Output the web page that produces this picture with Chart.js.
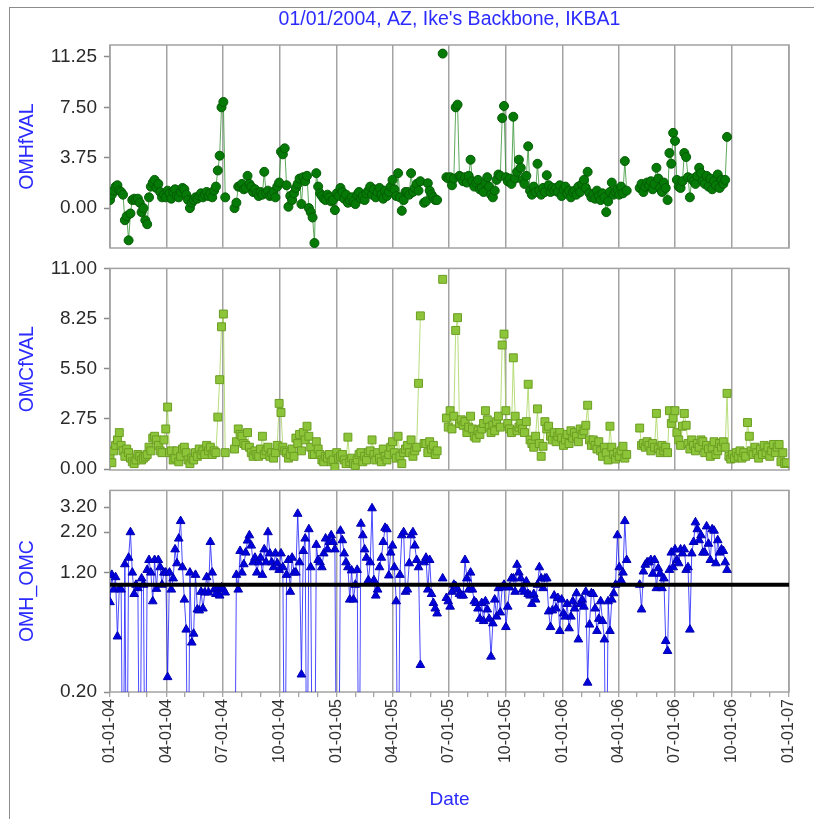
<!DOCTYPE html>
<html>
<head>
<meta charset="utf-8">
<script src="https://cdn.jsdelivr.net/npm/chart.js@4.4.1/dist/chart.umd.min.js"></script>
<style>
  html, body { margin: 0; padding: 0; background: #fff; }
  #page { position: relative; width: 814px; height: 819px; overflow: hidden; }
  #frame { position: absolute; left: 9px; top: 7px; width: 820px; height: 830px;
           border-left: 1px solid #8c8c8c; border-top: 1px solid #8c8c8c; }
  canvas { position: absolute; left: 10px; }
</style>
</head>
<body>
<div id="page">
  <div id="frame"></div>
  <canvas id="omhChart" width="804" height="260" style="top:8px"></canvas>
  <canvas id="omcChart" width="804" height="240" style="top:250px"></canvas>
  <canvas id="ratioChart" width="804" height="347" style="top:472px"></canvas>
</div>
<script>
// Datos: un muestreo cada 3 dias, dia 0 = 01/01/2004
const N = null;
const sampleDay = [
  0,3,6,9,12,15,18,21,24,27,
  30,33,36,39,42,45,48,51,54,57,
  60,63,66,69,72,75,78,81,84,87,
  90,93,96,99,102,105,108,111,114,117,
  120,123,126,129,132,135,138,141,144,147,
  150,153,156,159,162,165,168,171,174,177,
  180,183,186,189,192,195,198,201,204,207,
  210,213,216,219,222,225,228,231,234,237,
  240,243,246,249,252,255,258,261,264,267,
  270,273,276,279,282,285,288,291,294,297,
  300,303,306,309,312,315,318,321,324,327,
  330,333,336,339,342,345,348,351,354,357,
  360,363,366,369,372,375,378,381,384,387,
  390,393,396,399,402,405,408,411,414,417,
  420,423,426,429,432,435,438,441,444,447,
  450,453,456,459,462,465,468,471,474,477,
  480,483,486,489,492,495,498,501,504,507,
  510,513,516,519,522,525,528,531,534,537,
  540,543,546,549,552,555,558,561,564,567,
  570,573,576,579,582,585,588,591,594,597,
  600,603,606,609,612,615,618,621,624,627,
  630,633,636,639,642,645,648,651,654,657,
  660,663,666,669,672,675,678,681,684,687,
  690,693,696,699,702,705,708,711,714,717,
  720,723,726,729,732,735,738,741,744,747,
  750,753,756,759,762,765,768,771,774,777,
  780,783,786,789,792,795,798,801,804,807,
  810,813,816,819,822,825,828,831,834,837,
  840,843,846,849,852,855,858,861,864,867,
  870,873,876,879,882,885,888,891,894,897,
  900,903,906,909,912,915,918,921,924,927,
  930,933,936,939,942,945,948,951,954,957,
  960,963,966,969,972,975,978,981,984,987,
  990,993,996,999,1002,1005,1008,1011,1014,1017,
  1020,1023,1026,1029,1032,1035,1038,1041,1044,1047,
  1050,1053,1056,1059,1062,1065,1068,1071,1074,1077,
  1080,1083,1086,1089,1092
];

const omhfVal = [
  0.6,1.0,1.3,1.6,1.7,1.3,1.2,1.0,-0.9,-0.6,
  -2.4,-0.4,0.6,0.7,0.6,0.7,0.4,-0.3,0.0,-0.9,
  -1.2,0.8,1.6,1.9,2.1,1.5,1.8,1.2,0.8,1.0,
  0.8,1.3,1.1,0.7,1.2,1.4,0.9,0.8,1.2,1.5,
  1.4,1.0,0.6,0.0,0.4,0.6,0.8,0.7,0.9,1.1,
  0.8,1.0,1.2,0.9,1.1,0.8,1.3,1.6,2.8,3.9,
  7.5,7.9,0.8,N,N,N,N,0.0,0.4,1.6,
  1.6,1.8,1.4,1.5,2.4,1.8,1.6,1.2,1.4,1.1,
  0.9,1.2,1.0,2.7,1.1,1.3,0.9,1.0,1.2,0.8,
  1.6,1.9,4.2,4.0,4.45,1.7,0.1,0.9,0.6,1.1,
  1.5,1.8,2.2,0.3,2.3,2.0,2.4,0.0,-0.3,-0.7,
  -2.6,2.6,1.6,1.1,0.9,0.7,0.6,1.0,0.8,0.5,
  0.6,-0.15,1.1,0.9,1.5,1.2,0.7,1.0,0.4,0.6,
  0.8,0.5,0.3,1.0,1.2,0.7,0.9,0.6,1.1,1.3,
  1.6,1.0,1.4,0.8,1.2,1.5,1.0,0.7,1.3,0.9,
  1.2,1.6,2.1,1.4,0.9,2.6,0.8,-0.2,0.6,1.2,
  1.2,1.0,2.6,1.2,1.5,1.8,1.3,2.0,N,0.4,
  0.5,1.85,1.3,1.0,0.8,0.6,0.6,N,N,11.5,
  N,2.3,2.2,2.3,1.7,2.2,7.5,7.7,2.4,2.3,
  2.0,2.3,1.9,2.4,3.6,2.0,1.6,1.9,2.1,1.4,
  1.5,1.2,1.9,2.3,1.6,1.0,0.8,1.3,2.1,2.5,
  2.4,6.7,7.6,2.3,2.0,2.2,1.8,6.8,2.2,2.7,
  3.6,3.0,2.1,1.8,2.4,4.6,1.3,1.0,1.6,1.2,
  3.3,1.3,1.0,1.5,1.2,2.45,1.7,1.2,1.5,1.3,
  1.5,1.2,1.7,0.9,1.4,1.6,1.1,1.3,0.8,1.2,
  1.3,1.0,1.6,1.2,1.8,2.1,1.5,2.7,1.1,0.8,
  1.0,0.7,1.3,0.9,0.6,1.1,0.8,-0.3,0.5,1.2,
  1.9,1.0,1.2,1.4,1.0,1.6,1.1,3.5,1.3,N,
  N,N,N,N,N,1.5,1.8,1.2,1.6,1.9,
  1.7,2.0,1.4,1.8,3.0,2.2,1.5,1.2,1.9,1.5,
  0.6,4.1,3.3,5.6,5.0,2.1,1.6,1.5,2.0,4.1,
  3.8,2.3,0.8,2.2,2.0,1.8,2.4,3.0,2.6,2.0,
  1.8,2.4,1.6,2.2,1.4,2.0,1.7,2.5,1.5,2.1,
  1.8,2.1,5.3,N,N,N,N,N,N,N,
  N,N,N,N,N,N,N,N,N,N,
  N,N,N,N,N,N,N,N,N,N,
  N,N,N,N,N
];

const omcfVal = [
  0.75,0.35,1.0,1.3,1.6,2.0,1.3,1.0,0.7,1.1,
  0.9,0.6,0.4,0.3,0.5,0.8,0.7,0.5,0.6,0.7,
  0.8,1.2,1.0,1.7,1.8,1.6,1.3,1.0,0.9,1.6,
  2.2,3.4,0.9,1.0,0.5,0.6,1.0,0.4,0.7,1.1,
  1.2,0.9,0.5,0.3,0.6,0.5,0.9,0.7,1.1,0.8,
  1.0,0.8,1.3,1.0,1.2,0.8,1.0,0.9,2.85,4.9,
  7.8,8.5,0.9,N,N,N,N,1.1,1.5,2.2,
  1.9,1.8,1.4,1.3,2.0,1.2,0.9,0.7,1.0,0.8,
  0.7,1.1,1.8,0.8,1.0,1.2,0.7,0.9,0.6,0.9,
  1.3,3.6,3.1,1.2,1.0,0.9,0.6,0.8,1.1,0.7,
  1.7,1.4,1.9,1.0,2.0,1.6,2.35,1.8,1.2,0.8,
  0.8,1.5,1.1,0.8,0.5,0.4,0.7,0.6,0.8,0.4,
  0.5,0.1,0.9,0.6,0.7,0.8,0.5,0.3,1.75,0.4,
  0.6,0.3,0.2,0.5,0.8,0.9,0.4,0.7,0.5,0.9,
  1.0,1.6,0.8,0.5,0.9,0.6,0.4,1.1,0.7,0.5,
  0.8,1.2,1.5,0.9,0.6,1.8,0.7,0.3,0.9,1.1,
  1.3,0.9,1.6,0.7,1.0,1.2,4.7,8.4,N,1.4,
  1.4,0.9,1.5,1.1,1.3,0.8,1.0,N,N,10.4,
  N,2.8,2.3,3.2,2.2,2.9,7.6,8.3,2.5,2.7,
  2.4,2.6,2.0,2.3,2.9,2.2,1.8,1.7,2.1,1.9,
  2.2,2.5,3.2,2.7,2.3,2.0,2.4,2.1,2.6,2.9,
  2.3,6.8,7.4,3.2,2.5,2.2,2.0,6.1,2.9,2.1,
  2.3,2.5,2.2,2.0,2.6,4.65,1.6,1.4,1.2,1.8,
  3.3,1.4,0.7,1.25,2.6,2.2,2.35,1.8,1.6,2.0,
  1.5,1.8,2.0,1.7,1.3,1.6,1.9,1.4,2.1,1.7,
  2.0,1.8,1.5,2.2,1.9,2.1,2.4,3.5,1.6,1.3,
  1.6,1.3,1.1,1.5,1.0,0.7,1.2,0.9,0.5,2.35,
  1.2,0.8,0.55,0.9,0.7,1.0,1.25,0.6,0.8,N,
  N,N,N,N,N,2.25,1.3,1.4,1.2,1.5,
  1.3,1.0,1.4,1.2,3.05,1.1,0.9,1.3,1.0,1.2,
  0.9,3.2,2.5,2.8,3.2,2.0,1.6,1.3,2.35,3.05,
  2.4,1.4,1.1,1.6,1.3,1.0,1.4,1.2,1.6,1.5,
  0.9,1.3,1.1,0.7,1.2,1.5,0.8,1.0,1.4,1.2,
  1.5,1.2,4.15,0.7,0.55,0.8,0.6,0.9,0.7,1.0,
  0.6,0.9,0.7,2.55,1.8,1.0,0.8,1.2,0.9,0.6,
  1.1,0.8,1.3,0.9,1.2,0.7,1.0,1.35,0.9,1.2,
  1.35,0.4,0.9,0.3,0.35
];

// 0.02 = por debajo del minimo del eje (se sale por abajo)
const omhOmc = [
  0.77,1.16,0.93,1.12,0.46,0.95,0.93,0.02,1.36,0.02,
  1.5,2.2,1.2,0.87,1.0,0.95,0.02,1.1,1.0,0.02,
  1.25,1.45,1.2,0.78,1.45,0.94,1.45,1.3,1.0,1.2,
  1.2,0.25,1.2,0.93,1.1,1.7,1.38,2.0,2.6,1.3,
  0.8,0.51,0.02,1.2,0.42,0.48,1.16,0.69,0.68,0.9,
  0.7,0.89,1.12,0.89,1.9,1.2,0.93,0.87,0.95,0.85,
  0.96,0.93,0.89,N,N,N,N,0.02,1.16,0.93,
  1.66,1.2,1.36,1.62,1.94,2.1,1.8,1.4,1.5,1.2,
  1.4,1.5,1.16,1.7,1.4,2.2,1.6,1.4,1.3,1.6,
  1.38,1.25,1.6,1.3,0.02,1.16,1.45,0.9,1.5,1.2,
  1.2,2.9,1.4,0.26,1.66,2.0,0.02,2.3,1.3,0.02,
  0.02,1.82,1.45,1.4,1.3,1.6,2.0,1.7,1.9,2.1,
  1.9,1.7,0.02,0.02,2.25,1.95,1.6,1.4,1.3,0.8,
  1.24,0.8,1.0,1.25,0.02,2.5,2.1,1.7,1.5,1.07,
  1.4,3.15,1.07,0.85,0.93,1.3,1.5,1.9,2.35,2.3,
  1.15,1.62,1.8,1.3,0.78,0.02,1.16,2.1,2.2,0.9,
  0.93,1.38,2.1,2.2,1.8,1.45,1.3,0.3,N,1.4,
  1.5,0.93,1.45,0.87,0.76,0.7,0.65,N,N,1.1,
  N,0.82,0.78,0.72,0.9,1.0,0.98,0.93,0.87,0.85,
  0.85,1.45,1.1,0.93,1.2,0.93,0.78,0.76,0.7,0.6,
  0.76,0.58,0.78,0.69,0.6,0.34,0.56,0.8,0.62,0.95,
  0.66,0.96,1.0,0.53,0.72,0.96,1.1,1.1,0.9,1.35,
  1.2,1.1,0.93,0.9,1.05,0.87,0.85,0.75,0.87,0.8,
  1.0,1.3,1.1,0.95,1.1,1.1,0.67,0.53,0.68,0.85,
  0.7,0.82,0.5,0.8,0.65,0.62,0.75,0.52,0.62,0.78,
  0.7,0.88,0.44,0.75,0.8,0.72,0.9,0.23,0.55,0.88,
  0.87,0.7,0.5,0.6,0.78,0.58,0.44,0.02,0.78,0.5,
  0.8,0.88,1.0,2.1,1.3,1.07,1.2,2.6,1.45,N,
  N,N,N,N,N,1.0,0.69,1.22,1.35,1.4,
  1.4,1.45,1.18,1.45,0.95,1.28,1.18,0.95,1.1,0.43,
  0.37,1.25,1.62,1.3,1.7,1.45,1.38,1.7,1.6,1.7,
  1.25,1.3,0.51,1.6,1.9,2.55,2.3,1.95,2.1,1.62,
  1.62,2.4,1.85,1.45,2.3,2.25,1.38,1.95,1.62,1.7,
  1.66,1.4,1.25,N,N,N,N,N,N,N,
  N,N,N,N,N,N,N,N,N,N,
  N,N,N,N,N,N,N,N,N,N,
  N,N,N,N,N
];

const omhTicks = [0, 3.75, 7.5, 11.25];
const omcTicks = [0, 2.75, 5.5, 8.25, 11];
const ratioTicks = [0.2, 1.2, 2.2, 3.2];
const REF_LEVEL = 1;

const TITLE = "01/01/2004, AZ, Ike's Backbone, IKBA1";
const FONT = "'Liberation Sans', Arial, sans-serif";
const BLUE = '#2b2bff';
const GRID = '#a3a3a3';
const DAY_MS = 86400000;
const START = Date.UTC(2004, 0, 1);
const END_DAY = (Date.UTC(2007, 0, 1) - START) / DAY_MS;

Chart.defaults.font.family = FONT;
Chart.defaults.color = '#333';

// Marcas del eje x: inicio de cada mes
const monthTicks = [];
for (let y = 2004; y <= 2007; y++) {
    for (let m = 0; m < 12; m++) {
        const d = (Date.UTC(y, m, 1) - START) / DAY_MS;
        if (d <= END_DAY) monthTicks.push(d);
    }
}
const isQuarter = d => new Date(START + d * DAY_MS).getUTCMonth() % 3 === 0;
const quarterTicks = monthTicks.filter(isQuarter);

function fmtDate(d) {
    const t = new Date(START + d * DAY_MS);
    const mm = String(t.getUTCMonth() + 1).padStart(2, '0');
    const dd = String(t.getUTCDate()).padStart(2, '0');
    const yy = String(t.getUTCFullYear() % 100).padStart(2, '0');
    return mm + '-' + dd + '-' + yy;
}

function points(values) {
    return sampleDay.map((d, i) => ({ x: d, y: values[i] }));
}

// Marco gris alrededor del area de datos
const framePlugin = {
    id: 'plotFrame',
    beforeDatasetsDraw(chart) {
        const { ctx, chartArea: a } = chart;
        ctx.save();
        ctx.strokeStyle = GRID;
        ctx.lineWidth = 1.5;
        ctx.strokeRect(a.left, a.top, a.right - a.left, a.bottom - a.top);
        ctx.restore();
    }
};

function yScale(title, ticks, extra) {
    return Object.assign({
        position: 'left',
        afterFit: s => { s.width = 94; },
        afterBuildTicks: s => { s.ticks = ticks.map(v => ({ value: v })); },
        border: { display: false },
        grid: { drawOnChartArea: false, drawTicks: true, tickLength: 6, tickColor: '#8a8a8a', tickWidth: 1.5 },
        ticks: { padding: 7, color: '#2a2a2a', font: { size: 19 }, callback: v => Number(v).toFixed(2) },
        title: { display: true, text: title, color: BLUE, font: { size: 19.5 }, padding: 0 }
    }, extra);
}

function hiddenX() {
    return {
        type: 'linear',
        min: 0,
        max: END_DAY,
        afterBuildTicks: s => { s.ticks = quarterTicks.map(v => ({ value: v })); },
        afterFit: s => { s.height = 0; },
        border: { display: false },
        grid: { color: GRID, lineWidth: 1.5, drawTicks: false },
        ticks: { display: false }
    };
}

const baseOptions = {
    responsive: false,
    animation: false,
    devicePixelRatio: 1,
    events: []
};

// Grafico 1: OMHfVAL
new Chart(document.getElementById('omhChart'), {
    type: 'line',
    data: {
        datasets: [{
            label: 'OMHfVAL',
            data: points(omhfVal),
            borderColor: 'rgba(40,140,40,0.75)',
            borderWidth: 1,
            pointStyle: 'circle',
            pointRadius: 4.5,
            pointBackgroundColor: '#067a06',
            pointBorderColor: '#045c04',
            pointBorderWidth: 1,
            spanGaps: false
        }]
    },
    options: Object.assign({}, baseOptions, {
        layout: { padding: { left: 6, right: 25, top: 0, bottom: 20 } },
        plugins: {
            legend: { display: false },
            tooltip: { enabled: false },
            title: {
                display: true, text: TITLE, color: BLUE, fullSize: false,
                font: { size: 19.5, weight: 'normal' }, padding: { top: 0, bottom: 13.6 }
            }
        },
        scales: {
            x: hiddenX(),
            y: yScale('OMHfVAL', omhTicks, { min: -2.97, max: 12.14 })
        }
    }),
    plugins: [framePlugin]
});

// Grafico 2: OMCfVAL
new Chart(document.getElementById('omcChart'), {
    type: 'line',
    data: {
        datasets: [{
            label: 'OMCfVAL',
            data: points(omcfVal),
            borderColor: 'rgba(160,210,80,0.75)',
            borderWidth: 1,
            pointStyle: 'rect',
            pointRadius: 5.6,
            pointBackgroundColor: '#8cc43a',
            pointBorderColor: '#6b9e22',
            pointBorderWidth: 1,
            spanGaps: false
        }]
    },
    options: Object.assign({}, baseOptions, {
        layout: { padding: { left: 6, right: 25, top: 17, bottom: 20 } },
        plugins: { legend: { display: false }, tooltip: { enabled: false } },
        scales: {
            x: hiddenX(),
            y: yScale('OMCfVAL', omcTicks, { min: -0.05, max: 11 })
        }
    }),
    plugins: [framePlugin]
});

// Grafico 3: OMH_OMC (escala logaritmica) con linea de referencia en 1
new Chart(document.getElementById('ratioChart'), {
    type: 'line',
    data: {
        datasets: [{
            label: 'ref',
            data: [{ x: 0, y: REF_LEVEL }, { x: END_DAY, y: REF_LEVEL }],
            borderColor: '#000',
            borderWidth: 4,
            pointRadius: 0
        }, {
            label: 'OMH_OMC',
            data: points(omhOmc),
            borderColor: 'rgba(30,30,255,0.8)',
            borderWidth: 1,
            pointStyle: 'triangle',
            pointRadius: 5,
            pointBackgroundColor: '#0000dd',
            pointBorderColor: '#0000b0',
            pointBorderWidth: 1,
            spanGaps: false
        }]
    },
    options: Object.assign({}, baseOptions, {
        layout: { padding: { left: 6, right: 25, top: 15, bottom: 0 } },
        plugins: { legend: { display: false }, tooltip: { enabled: false } },
        scales: {
            x: {
                type: 'linear',
                min: 0,
                max: END_DAY,
                afterBuildTicks: s => { s.ticks = monthTicks.map(v => ({ value: v })); },
                afterFit: s => { s.height = 127; },
                border: { display: false },
                grid: {
                    color: c => (c.tick && isQuarter(c.tick.value)) ? GRID : 'rgba(0,0,0,0)',
                    lineWidth: 1.5,
                    drawTicks: true,
                    tickLength: 5,
                    tickColor: '#8a8a8a',
                    tickWidth: 1
                },
                ticks: {
                    autoSkip: false,
                    minRotation: 90,
                    maxRotation: 90,
                    padding: 2,
                    color: '#333',
                    font: { size: 16 },
                    callback: v => isQuarter(v) ? fmtDate(v) : ''
                },
                title: { display: true, text: 'Date', color: BLUE, font: { size: 19 }, padding: { top: 0, bottom: 8 } }
            },
            y: yScale('OMH_OMC', ratioTicks, { type: 'logarithmic', min: 0.2, max: 4.12 })
        }
    }),
    plugins: [framePlugin]
});
</script>
</body>
</html>
